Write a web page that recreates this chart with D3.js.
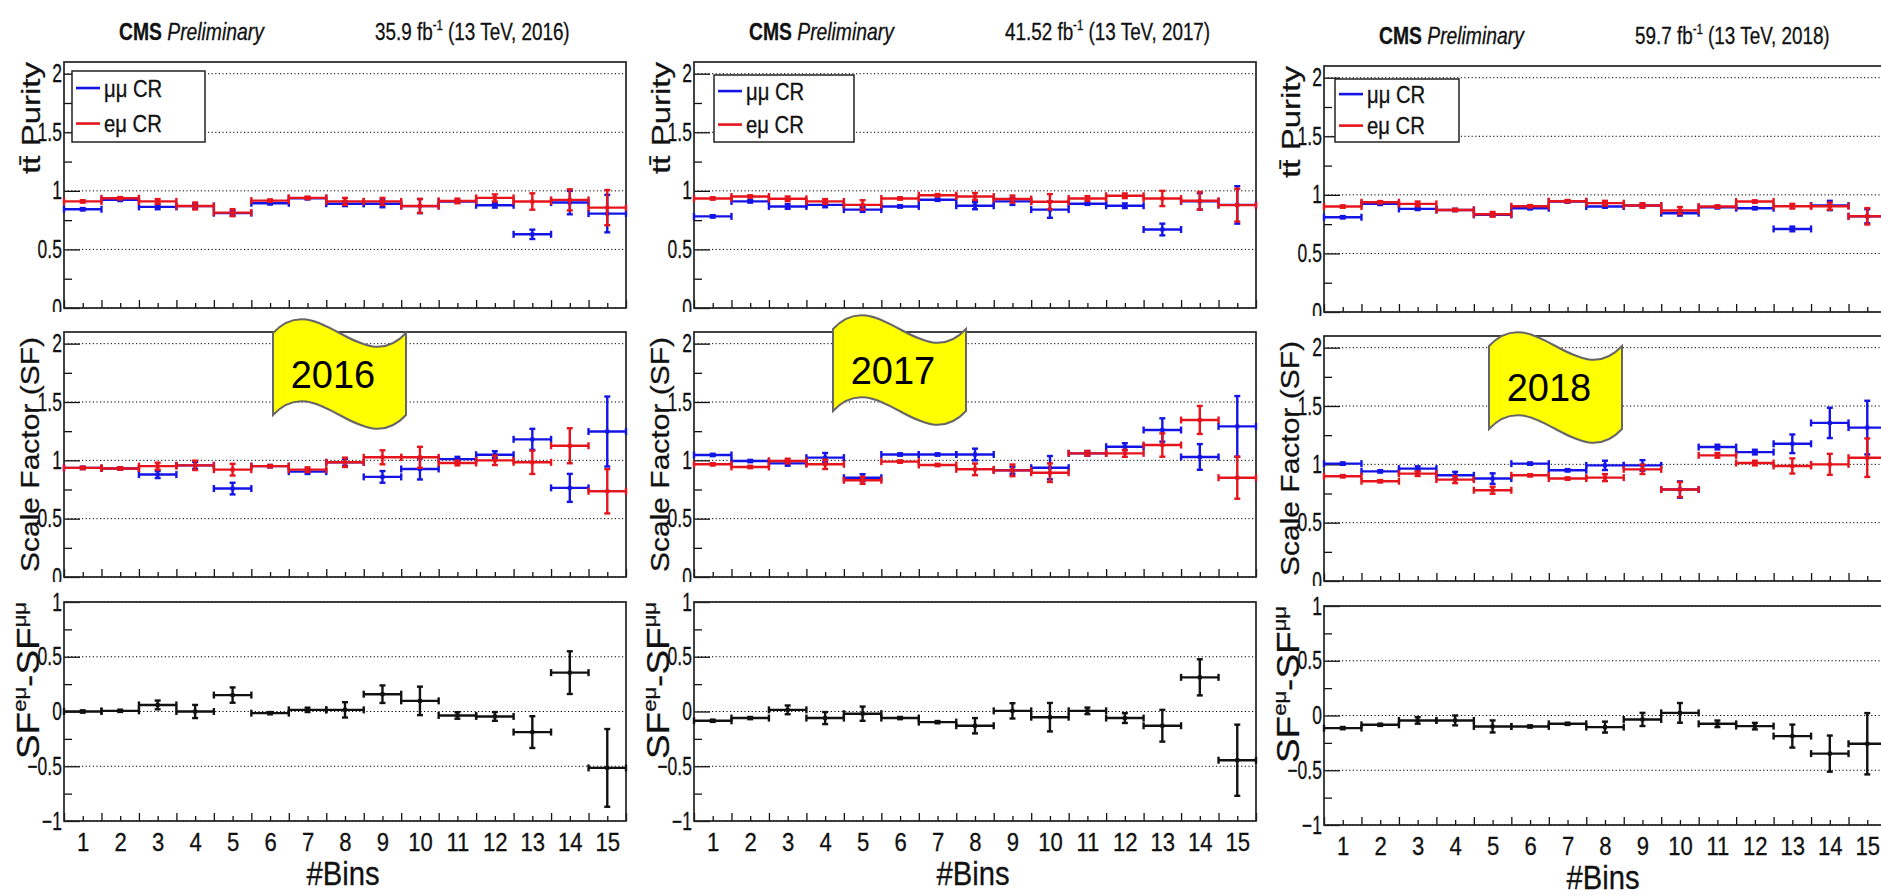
<!DOCTYPE html>
<html>
<head>
<meta charset="utf-8">
<script src="https://cdn.jsdelivr.net/npm/d3@7"></script>
<style>
  body { margin: 0; background: #fff; }
  svg { display: block; }
</style>
</head>
<body>
<div id="chart"></div>
<script>
// ---- data ----
const BINS = [1, 2, 3, 4, 5, 6, 7, 8, 9, 10, 11, 12, 13, 14, 15];
const YEARS = ["2016", "2017", "2018"];
const LUMI = ["35.9", "41.52", "59.7"];
const LEGEND_LABELS = ["\u03bc\u03bc CR", "e\u03bc CR"];
const SF_TICKS = [0, 0.5, 1, 1.5, 2];
const SF_TICK_LABELS = ["0", "0.5", "1", "1.5", "2"];
const DIFF_TICKS = [-1, -0.5, 0, 0.5, 1];
const DIFF_TICK_LABELS = ["\u22121", "\u22120.5", "0", "0.5", "1"];

// 2016
const pur16_mm = [0.843, 0.923, 0.863, 0.87, 0.81, 0.894, 0.937, 0.89, 0.89, 0.87, 0.909, 0.877, 0.629, 0.90, 0.806];
const pur16_mm_err = [0.01, 0.01, 0.02, 0.02, 0.02, 0.01, 0.01, 0.02, 0.03, 0.06, 0.01, 0.02, 0.04, 0.1, 0.16];
const pur16_em = [0.91, 0.937, 0.91, 0.871, 0.814, 0.917, 0.94, 0.91, 0.91, 0.871, 0.914, 0.94, 0.909, 0.923, 0.857];
const pur16_em_err = [0.01, 0.01, 0.02, 0.03, 0.03, 0.01, 0.01, 0.03, 0.03, 0.06, 0.02, 0.03, 0.07, 0.09, 0.15];
const sf16_mm = [0.935, 0.93, 0.878, 0.957, 0.758, 0.95, 0.903, 0.983, 0.858, 0.926, 1.01, 1.048, 1.18, 0.764, 1.247];
const sf16_mm_err = [0.01, 0.01, 0.03, 0.03, 0.05, 0.01, 0.02, 0.03, 0.05, 0.09, 0.02, 0.03, 0.09, 0.12, 0.3];
const sf16_em = [0.935, 0.93, 0.95, 0.957, 0.92, 0.95, 0.92, 0.983, 1.026, 1.026, 0.977, 1.0, 0.983, 1.125, 0.735];
const sf16_em_err = [0.01, 0.01, 0.03, 0.04, 0.05, 0.01, 0.02, 0.04, 0.06, 0.09, 0.02, 0.04, 0.1, 0.15, 0.19];
const diff16 = [0.0, 0.006, 0.06, 0.0, 0.15, -0.015, 0.015, 0.015, 0.158, 0.097, -0.036, -0.045, -0.188, 0.355, -0.515];
const diff16_err = [0.01, 0.01, 0.04, 0.06, 0.07, 0.01, 0.02, 0.07, 0.08, 0.13, 0.03, 0.04, 0.145, 0.195, 0.355];

// 2017
const pur17_mm = [0.782, 0.91, 0.867, 0.88, 0.84, 0.867, 0.924, 0.873, 0.91, 0.84, 0.89, 0.873, 0.67, 0.91, 0.88];
const pur17_mm_err = [0.01, 0.01, 0.02, 0.02, 0.02, 0.01, 0.01, 0.03, 0.03, 0.07, 0.01, 0.02, 0.05, 0.07, 0.16];
const pur17_em = [0.935, 0.952, 0.932, 0.91, 0.88, 0.935, 0.963, 0.952, 0.93, 0.907, 0.935, 0.958, 0.935, 0.915, 0.878];
const pur17_em_err = [0.01, 0.01, 0.02, 0.02, 0.04, 0.01, 0.01, 0.03, 0.03, 0.065, 0.02, 0.02, 0.065, 0.075, 0.14];
const sf17_mm = [1.046, 0.994, 0.974, 1.023, 0.851, 1.05, 1.05, 1.05, 0.915, 0.937, 1.06, 1.117, 1.26, 1.029, 1.291];
const sf17_mm_err = [0.01, 0.01, 0.02, 0.04, 0.03, 0.01, 0.01, 0.05, 0.03, 0.1, 0.02, 0.03, 0.1, 0.11, 0.26];
const sf17_em = [0.966, 0.943, 0.994, 0.966, 0.829, 0.989, 0.96, 0.923, 0.914, 0.894, 1.06, 1.06, 1.131, 1.346, 0.851];
const sf17_em_err = [0.01, 0.01, 0.02, 0.04, 0.03, 0.01, 0.01, 0.05, 0.05, 0.08, 0.02, 0.03, 0.1, 0.12, 0.18];
const diff17 = [-0.085, -0.06, 0.015, -0.06, -0.02, -0.06, -0.097, -0.13, 0.006, -0.052, 0.006, -0.06, -0.13, 0.312, -0.445];
const diff17_err = [0.01, 0.01, 0.04, 0.055, 0.065, 0.01, 0.01, 0.07, 0.07, 0.13, 0.03, 0.045, 0.145, 0.165, 0.325];

// 2018
const pur18_mm = [0.809, 0.923, 0.88, 0.871, 0.829, 0.886, 0.943, 0.9, 0.909, 0.843, 0.894, 0.886, 0.709, 0.909, 0.817];
const pur18_mm_err = [0.01, 0.01, 0.01, 0.01, 0.01, 0.01, 0.01, 0.01, 0.01, 0.02, 0.01, 0.01, 0.02, 0.04, 0.06];
const pur18_em = [0.9, 0.937, 0.923, 0.871, 0.834, 0.903, 0.946, 0.929, 0.909, 0.866, 0.9, 0.943, 0.903, 0.903, 0.817];
const pur18_em_err = [0.01, 0.01, 0.02, 0.01, 0.02, 0.01, 0.01, 0.02, 0.02, 0.03, 0.01, 0.01, 0.02, 0.03, 0.07];
const sf18_mm = [1.006, 0.94, 0.963, 0.906, 0.878, 1.006, 0.949, 0.991, 0.991, 0.784, 1.148, 1.105, 1.176, 1.355, 1.315];
const sf18_mm_err = [0.01, 0.01, 0.02, 0.03, 0.045, 0.01, 0.01, 0.04, 0.045, 0.07, 0.02, 0.02, 0.08, 0.13, 0.23];
const sf18_em = [0.898, 0.855, 0.92, 0.869, 0.778, 0.906, 0.878, 0.886, 0.957, 0.784, 1.077, 1.011, 0.986, 1.0, 1.057];
const sf18_em_err = [0.01, 0.01, 0.02, 0.03, 0.03, 0.01, 0.01, 0.03, 0.04, 0.065, 0.02, 0.02, 0.065, 0.09, 0.165];
const diff18 = [-0.115, -0.085, -0.045, -0.045, -0.1, -0.1, -0.076, -0.106, -0.036, 0.024, -0.076, -0.097, -0.188, -0.348, -0.258];
const diff18_err = [0.01, 0.01, 0.03, 0.045, 0.055, 0.01, 0.01, 0.05, 0.06, 0.09, 0.03, 0.03, 0.105, 0.165, 0.28];

const PANELS = [
  { pur: [pur16_mm, pur16_mm_err, pur16_em, pur16_em_err], sf: [sf16_mm, sf16_mm_err, sf16_em, sf16_em_err], diff: [diff16, diff16_err] },
  { pur: [pur17_mm, pur17_mm_err, pur17_em, pur17_em_err], sf: [sf17_mm, sf17_mm_err, sf17_em, sf17_em_err], diff: [diff17, diff17_err] },
  { pur: [pur18_mm, pur18_mm_err, pur18_em, pur18_em_err], sf: [sf18_mm, sf18_mm_err, sf18_em, sf18_em_err], diff: [diff18, diff18_err] }
];

// ---- layout ----
const WIDTH = 1881, HEIGHT = 895;
const PANEL_X = [0, 630, 1260];
const PANEL_DY = [0, 0, 4];
const FRAME = { left: 64, right: 626 };
const PADS = {
  pur: { top: 62, bottom: 308, bg: null },
  sf: { top: 332, bottom: 577, bg: 312 },
  diff: { top: 602, bottom: 821, bg: 582 }
};
const LEGEND_BOX = [{ x: 72, y: 71, w: 133, h: 71 }, { x: 84, y: 75, w: 140, h: 67 }, { x: 75, y: 75, w: 124, h: 63 }];
const FLAG_BOX = [{ x: 273, y: 333, w: 133, h: 82 }, { x: 203, y: 329, w: 133, h: 82 }, { x: 229, y: 346, w: 133, h: 83 }];
const FONT = '"Liberation Sans", Arial, Helvetica, sans-serif';
const BLUE = "#1414e6", RED = "#e6141c", INK = "#111";

const svg = d3.select("#chart").append("svg")
  .attr("width", WIDTH).attr("height", HEIGHT)
  .style("font-family", FONT);
svg.append("rect").attr("width", WIDTH).attr("height", HEIGHT).attr("fill", "#fff");

// ROOT text comes out narrower than the font, so squeeze it sideways
function squeezedText(parent, x, y, size, sq, anchor) {
  return parent.append("text")
    .attr("transform", `translate(${x},${y}) scale(${sq},1)`)
    .attr("font-size", size)
    .attr("text-anchor", anchor || "start")
    .attr("fill", INK).attr("stroke", INK).attr("stroke-width", 0.3);
}

function drawPad(g, pad, domain, ticks, tickLabels, showX) {
  if (pad.bg !== null) {
    g.append("rect").attr("x", 0).attr("y", pad.bg).attr("width", 630).attr("height", HEIGHT - pad.bg).attr("fill", "#fff");
  }

  let x = d3.scaleLinear().domain([0.5, 15.5]).range([FRAME.left, FRAME.right]);
  let y = d3.scaleLinear().domain(domain).range([pad.bottom, pad.top]);

  // dotted grid
  g.append("g").selectAll("line").data(ticks).join("line")
    .attr("x1", FRAME.left).attr("x2", FRAME.right)
    .attr("y1", d => y(d)).attr("y2", d => y(d))
    .attr("stroke", "#000").attr("stroke-width", 1).attr("stroke-dasharray", "1.2,2.4");

  // y axis, major + minor ticks pointing into the frame
  let yAxis = d3.axisLeft(y).tickValues(ticks).tickSize(-16).tickPadding(3)
    .tickFormat((d, i) => tickLabels[i]);
  g.append("g").attr("transform", `translate(${FRAME.left},0)`).call(yAxis)
    .attr("font-family", FONT).attr("font-size", 25)
    .call(a => a.select(".domain").remove())
    .call(a => a.selectAll("line").attr("stroke", INK).attr("stroke-width", 1.3))
    .call(a => a.selectAll("text").attr("fill", INK).attr("stroke", INK).attr("stroke-width", 0.3)
      .attr("transform", "scale(0.7,1)"));
  let minor = ticks.slice(0, -1).map(t => t + 0.25);
  g.append("g").attr("transform", `translate(${FRAME.left},0)`)
    .call(d3.axisLeft(y).tickValues(minor).tickSize(-8).tickFormat(""))
    .call(a => a.select(".domain").remove())
    .call(a => a.selectAll("line").attr("stroke", INK).attr("stroke-width", 1.3));

  // x axis: ticks at bin edges and bin centres
  let edges = BINS.map(b => b - 0.5).concat([15.5]);
  g.append("g").attr("transform", `translate(0,${pad.bottom})`)
    .call(d3.axisBottom(x).tickValues(edges).tickSize(-8).tickFormat(""))
    .call(a => a.select(".domain").remove())
    .call(a => a.selectAll("line").attr("stroke", INK).attr("stroke-width", 1.3));
  g.append("g").attr("transform", `translate(0,${pad.bottom})`)
    .call(d3.axisBottom(x).tickValues(BINS).tickSize(-5).tickPadding(12).tickFormat(showX ? d => d : ""))
    .attr("font-family", FONT).attr("font-size", 26)
    .call(a => a.select(".domain").remove())
    .call(a => a.selectAll("line").attr("stroke", INK).attr("stroke-width", 1.3))
    .call(a => a.selectAll("text").attr("fill", INK).attr("stroke", INK).attr("stroke-width", 0.3)
      .attr("transform", "scale(0.85,1)"));

  // frame
  g.append("rect")
    .attr("x", FRAME.left).attr("y", pad.top)
    .attr("width", FRAME.right - FRAME.left).attr("height", pad.bottom - pad.top)
    .attr("fill", "none").attr("stroke", "#222").attr("stroke-width", 1.7);

  return { x, y };
}

function drawPoints(g, x, y, vals, errs, color) {
  let pts = BINS.map((b, i) => ({ b, v: vals[i], e: errs[i] }));
  let s = g.append("g").attr("stroke", color).attr("stroke-width", 2.4).attr("fill", color);
  s.selectAll(".hbar").data(pts).join("line").attr("class", "hbar")
    .attr("x1", d => x(d.b - 0.5)).attr("x2", d => x(d.b + 0.5))
    .attr("y1", d => y(d.v)).attr("y2", d => y(d.v));
  s.selectAll(".vbar").data(pts).join("line").attr("class", "vbar")
    .attr("x1", d => x(d.b)).attr("x2", d => x(d.b))
    .attr("y1", d => y(d.v - d.e)).attr("y2", d => y(d.v + d.e));
  // caps on the vertical error
  [-1, 1].forEach(k => {
    s.selectAll(".vcap" + k).data(pts).join("line")
      .attr("x1", d => x(d.b) - 3).attr("x2", d => x(d.b) + 3)
      .attr("y1", d => y(d.v + k * d.e)).attr("y2", d => y(d.v + k * d.e));
  });
  // caps on the horizontal bar ends
  [-0.5, 0.5].forEach(k => {
    s.selectAll(".hcap" + (k > 0 ? "r" : "l")).data(pts).join("line")
      .attr("x1", d => x(d.b + k)).attr("x2", d => x(d.b + k))
      .attr("y1", d => y(d.v) - 3.5).attr("y2", d => y(d.v) + 3.5);
  });
  s.selectAll("rect").data(pts).join("rect")
    .attr("x", d => x(d.b) - 2).attr("y", d => y(d.v) - 2)
    .attr("width", 4).attr("height", 4).attr("stroke", "none");
}

function yTitle(g, x, y, size, sq) {
  return g.append("text")
    .attr("transform", `translate(${x},${y}) scale(${sq},1) rotate(-90)`)
    .attr("text-anchor", "end").attr("font-size", size)
    .attr("fill", INK).attr("stroke", INK).attr("stroke-width", 0.3);
}

function wavePath(b, k) {
  let { x, y, w, h } = b;
  return `M${x},${y} C${x + w / 3},${y - k} ${x + 2 * w / 3},${y + k} ${x + w},${y}` +
    ` L${x + w},${y + h}` +
    ` C${x + 2 * w / 3},${y + h + k} ${x + w / 3},${y + h - k} ${x},${y + h} Z`;
}

PANELS.forEach((p, pi) => {
  let g = svg.append("g").attr("transform", `translate(${PANEL_X[pi]},${PANEL_DY[pi]})`);

  // purity pad
  let pur = drawPad(g, PADS.pur, [0, 2.1], SF_TICKS, SF_TICK_LABELS, false);
  drawPoints(g, pur.x, pur.y, p.pur[0], p.pur[1], BLUE);
  drawPoints(g, pur.x, pur.y, p.pur[2], p.pur[3], RED);
  yTitle(g, 40, PADS.pur.top, 33, 0.8).text("tt\u0304 Purity");

  // header
  let h = squeezedText(g, 119, 40, 23, 0.84);
  h.append("tspan").attr("font-weight", "bold").text("CMS");
  h.append("tspan").attr("font-style", "italic").text(" Preliminary");
  let l = squeezedText(g, 375, 40, 23, 0.82);
  l.append("tspan").text(LUMI[pi] + " fb");
  l.append("tspan").attr("font-size", 14).attr("dy", -10).text("-1");
  l.append("tspan").attr("dy", 10).text(" (13 TeV, " + YEARS[pi] + ")");

  let lb = LEGEND_BOX[pi];
  let leg = g.append("g");
  leg.append("rect").attr("x", lb.x).attr("y", lb.y).attr("width", lb.w).attr("height", lb.h)
    .attr("fill", "#fff").attr("stroke", "#222").attr("stroke-width", 1.5);
  [BLUE, RED].forEach((c, i) => {
    let yy = lb.y + lb.h * (0.24 + 0.5 * i);
    leg.append("line").attr("x1", lb.x + 4).attr("x2", lb.x + 28).attr("y1", yy).attr("y2", yy)
      .attr("stroke", c).attr("stroke-width", 2.6);
    squeezedText(leg, lb.x + 32, yy + 8.5, 23, 0.88).text(LEGEND_LABELS[i]);
  });

  // scale factor pad
  let sf = drawPad(g, PADS.sf, [0, 2.1], SF_TICKS, SF_TICK_LABELS, false);
  drawPoints(g, sf.x, sf.y, p.sf[0], p.sf[1], BLUE);
  drawPoints(g, sf.x, sf.y, p.sf[2], p.sf[3], RED);
  yTitle(g, 39, PADS.sf.top + 5, 30, 0.88).text("Scale Factor (SF)");

  // difference pad
  let df = drawPad(g, PADS.diff, [-1, 1], DIFF_TICKS, DIFF_TICK_LABELS, true);
  drawPoints(g, df.x, df.y, p.diff[0], p.diff[1], INK);
  let t = yTitle(g, 39, PADS.diff.top, 37, 0.84);
  t.append("tspan").text("SF");
  t.append("tspan").attr("font-size", 22).attr("dy", -16).text("e\u03bc");
  t.append("tspan").attr("dy", 16).text("-SF");
  t.append("tspan").attr("font-size", 22).attr("dy", -16).text("\u03bc\u03bc");
  squeezedText(g, 343, 885, 34, 0.86, "middle").text("#Bins");
});

// yellow year banners on top
PANELS.forEach((p, pi) => {
  let g = svg.append("g").attr("transform", `translate(${PANEL_X[pi]},0)`);
  let b = FLAG_BOX[pi];
  g.append("path").attr("d", wavePath(b, 48))
    .attr("fill", "#ffff00").attr("stroke", "#666").attr("stroke-width", 2);
  g.append("text").attr("x", b.x + 60).attr("y", b.y + 55)
    .attr("text-anchor", "middle").attr("font-size", 38).attr("fill", "#000")
    .text(YEARS[pi]);
});
</script>
</body>
</html>
